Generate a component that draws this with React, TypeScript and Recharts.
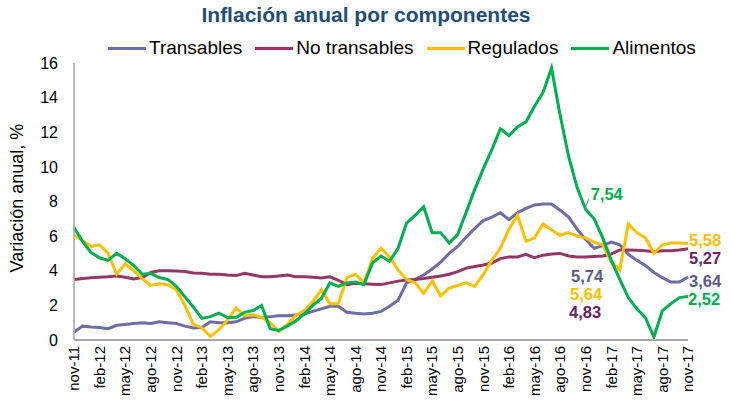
import React from 'react';
import { LineChart, Line, XAxis, YAxis, LabelList } from 'recharts';

const monthNames = ['ene', 'feb', 'mar', 'abr', 'may', 'jun', 'jul', 'ago', 'sep', 'oct', 'nov', 'dic'];
// nov-11 ... nov-17, monthly
const periods = Array.from({ length: 73 }, (_, i) => `${monthNames[(10 + i) % 12]}-${11 + Math.floor((10 + i) / 12)}`);

const transables = [
    0.45, 0.8, 0.75, 0.72, 0.65, 0.85, 0.9, 0.95, 1.0, 0.95, 1.05, 1.0,
    0.95, 0.8, 0.7, 0.72, 1.05, 1.0, 1.0, 1.05, 1.25, 1.35, 1.3, 1.35,
    1.4, 1.4, 1.45, 1.5, 1.65, 1.8, 1.95, 1.95, 1.6, 1.55, 1.5, 1.55,
    1.65, 1.95, 2.3, 3.3, 3.5, 3.75, 4.1, 4.5, 5.0, 5.4, 5.95, 6.45,
    6.9, 7.1, 7.35, 6.95, 7.35, 7.6, 7.8, 7.85, 7.85, 7.5, 7.1, 6.4,
    5.8, 5.3, 5.45, 5.65, 5.5, 4.95, 4.6, 4.3, 3.9, 3.6, 3.35, 3.35,
    3.64,
];

const noTransables = [
    3.5, 3.55, 3.6, 3.62, 3.65, 3.7, 3.62, 3.52, 3.6, 3.9, 4.0, 4.0,
    3.98, 3.95, 3.87, 3.85, 3.8, 3.8, 3.75, 3.72, 3.85, 3.75, 3.65, 3.65,
    3.7, 3.75, 3.65, 3.65, 3.62, 3.58, 3.65, 3.45, 3.2, 3.28, 3.25, 3.22,
    3.2, 3.3, 3.4, 3.47, 3.5, 3.55, 3.62, 3.7, 3.8, 3.95, 4.15, 4.25,
    4.33, 4.45, 4.7, 4.8, 4.8, 4.95, 4.75, 4.9, 4.97, 5.0, 4.85, 4.8,
    4.8, 4.83, 4.85, 4.97, 5.2, 5.2, 5.18, 5.15, 5.1, 5.15, 5.15, 5.2,
    5.27,
];

const regulados = [
    6.05, 5.75, 5.4, 5.5, 5.0, 3.8, 4.4, 4.0, 3.55, 3.15, 3.25, 3.2,
    2.9, 2.0, 0.9, 0.7, 0.2, 0.6, 1.15, 1.85, 1.4, 1.45, 1.3, 1.0,
    0.5, 0.9, 1.4, 1.7, 2.2, 2.9, 2.1, 2.1, 3.6, 3.8, 3.3, 4.7,
    5.3, 4.8, 4.05, 3.5, 3.3, 2.7, 3.4, 2.55, 3.0, 3.15, 3.3, 3.1,
    3.8, 4.6, 5.3, 6.4, 7.2, 5.7, 5.9, 6.7, 6.35, 6.05, 6.2, 6.0,
    5.9, 5.64, 5.5, 4.5, 4.05, 6.7, 6.2, 5.9, 5.0, 5.5, 5.6, 5.6,
    5.58,
];

const alimentos = [
    6.5, 5.7, 5.05, 4.75, 4.6, 5.0, 4.7, 4.3, 3.8, 3.85, 3.6, 3.5,
    3.1, 2.5, 1.9, 1.25, 1.35, 1.55, 1.3, 1.3, 1.6, 1.7, 2.0, 0.65,
    0.55, 0.8, 1.1, 1.5, 2.0, 2.4, 3.3, 3.1, 3.3, 3.35, 3.2, 4.45,
    4.85, 4.55, 5.3, 6.75, 7.2, 7.7, 6.2, 6.2, 5.6, 6.1, 7.4, 8.7,
    9.9, 11.0, 12.2, 11.8, 12.3, 12.6, 13.5, 14.3, 15.7, 13.0, 10.6, 8.8,
    7.54, 7.0, 5.9, 4.6, 3.5, 2.45, 1.8, 1.3, 0.17, 1.7, 2.1, 2.45,
    2.52,
];

const yTicks = [0, 2, 4, 6, 8, 10, 12, 14, 16];

const data = periods.map((p, i) => ({
    periodo: p,
    Transables: transables[i],
    'No transables': noTransables[i],
    Regulados: regulados[i],
    Alimentos: alimentos[i],
}));

const FONT = '"Liberation Sans", Arial, sans-serif';

const series = [
    { key: 'Transables', color: '#6F6CA6', text: '#5E5A8C' },
    { key: 'No transables', color: '#953765', text: '#6E2063' },
    { key: 'Regulados', color: '#FFC000', text: '#FFC000' },
    { key: 'Alimentos', color: '#00B050', text: '#00B050' },
];

// annotation texts per series: [index, text, dx, dy, anchor]
const annotations: Record<string, Array<[number, string, number, number, 'start' | 'end']>> = {
    Transables: [[61, '5,74', 9, 34, 'end'], [72, '3,64', 1, 10, 'start']],
    'No transables': [[61, '4,83', 7, 62, 'end'], [72, '5,27', 1, 15, 'start']],
    Regulados: [[61, '5,64', 8, 58, 'end'], [72, '5,58', 1, 3, 'start']],
    Alimentos: [[60, '7,54', 5, -9, 'start'], [72, '2,52', 0, 9, 'start']],
};

const makeLabel = (key: string, color: string) => (props: any) => {
    const { x, y, index } = props;
    const hit = annotations[key].find((a) => a[0] === index);
    if (!hit) return null;
    const [idx, text, dx, dy, anchor] = hit;
    return (
        <g key={`${key}-${idx}`}>
            {key === 'Alimentos' && idx === 60 && (
                <line x1={x - 1} y1={y} x2={x + 3} y2={y - 10} stroke="#4F81BD" strokeWidth={1} />
            )}
            <text x={x + dx} y={y + dy} textAnchor={anchor} fill={color} fontSize={16.5} fontWeight="bold" fontFamily={FONT}>
                {text}
            </text>
        </g>
    );
};

const XTick = (props: any) => {
    const { x, y, payload } = props;
    return (
        <text
            x={x}
            y={y}
            transform={`rotate(-90, ${x}, ${y})`}
            textAnchor="end"
            dy="0.35em"
            fontSize={15}
            fill="#000"
            fontFamily={FONT}
        >
            {payload.value}
        </text>
    );
};

const App = () => {
    return (
        <div style={{ position: 'absolute', left: 0, top: 0, width: 732, height: 401, background: '#fff', fontFamily: FONT }}>
            <div
                style={{
                    position: 'absolute', top: 3, left: 0, width: 732, textAlign: 'center',
                    fontSize: 21, lineHeight: '24px', fontWeight: 'bold', color: '#1F4E79',
                }}
            >
                Inflación anual por componentes
            </div>
            <div style={{ position: 'absolute', top: 37, left: 108, display: 'flex', alignItems: 'center', fontSize: 19, lineHeight: '22px', color: '#000' }}>
                {series.map((s) => (
                    <div key={s.key} style={{ display: 'flex', alignItems: 'center', marginRight: 13 }}>
                        <span style={{ display: 'inline-block', width: 38, height: 3, background: s.color, marginRight: 3 }} />
                        <span>{s.key}</span>
                    </div>
                ))}
            </div>
            <LineChart width={732} height={401} data={data} margin={{ top: 63, right: 44, left: 14, bottom: 0 }}>
                <XAxis
                    dataKey="periodo"
                    interval={2}
                    height={61}
                    tick={<XTick />}
                    tickLine={false}
                    tickSize={4}
                    tickMargin={2}
                    axisLine={{ stroke: '#A6A6A6', strokeWidth: 2 }}
                />
                <YAxis
                    domain={[0, 16]}
                    ticks={yTicks}
                    width={60}
                    tickLine={false}
                    tickSize={6}
                    tickMargin={10}
                    axisLine={{ stroke: '#A6A6A6', strokeWidth: 1.5 }}
                    tick={{ fill: '#000', fontSize: 16, fontFamily: FONT }}
                    label={() => (
                        <text x={18} y={198} transform="rotate(-90, 18, 198)" textAnchor="middle" dominantBaseline="middle" fontSize={18} fill="#000" fontFamily={FONT}>
                            Variación anual, %
                        </text>
                    )}
                />
                {series.map((s) => (
                    <Line
                        key={s.key}
                        type="linear"
                        dataKey={s.key}
                        stroke={s.color}
                        strokeWidth={3}
                        dot={false}
                        isAnimationActive={false}
                    >
                        <LabelList dataKey={s.key} content={makeLabel(s.key, s.text)} />
                    </Line>
                ))}
            </LineChart>
        </div>
    );
};

export default App;
